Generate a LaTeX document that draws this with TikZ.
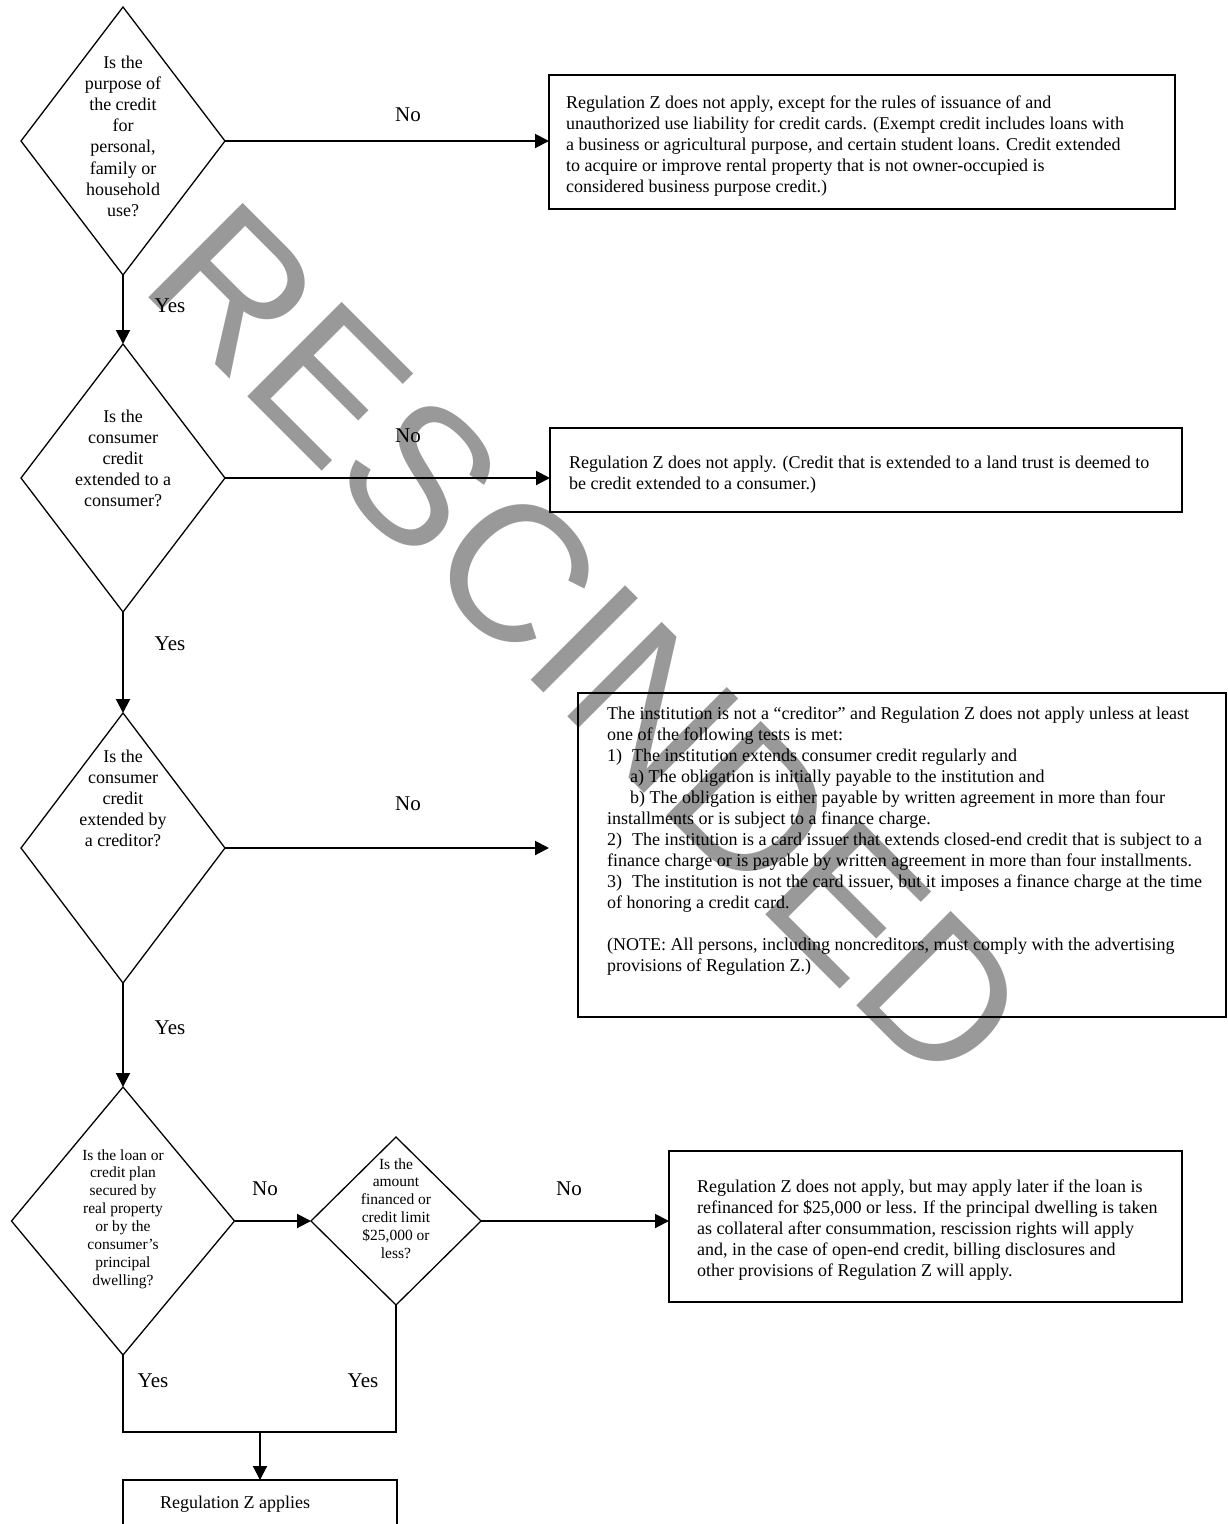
\documentclass[tikz,border=0pt]{standalone}
\usepackage{fontspec}
\setmainfont{Liberation Serif}
\newfontfamily\wmfont{Liberation Sans}
\usetikzlibrary{shapes.geometric,arrows.meta}
\newcommand\txtblock[1]{\begin{tabular}[t]{@{}l@{}}#1\end{tabular}}
\newcommand\ctrblock[1]{\begin{tabular}[t]{@{}c@{}}#1\end{tabular}}
\begin{document}
\begin{tikzpicture}[x=1pt,y=-1pt,
  dia/.style={diamond, draw, line width=1.3pt, inner sep=0pt, outer sep=0pt},
  box/.style={rectangle, draw, line width=1.8pt, inner sep=0pt, outer sep=0pt},
  conn/.style={line width=2pt},
  arr/.style={conn, -{Triangle[length=14pt,width=14pt]}},
  txt/.style={inner sep=0pt, anchor=base west, font=\fontsize{18}{21}\selectfont},
  dtxt/.style={inner sep=0pt, anchor=base, font=\fontsize{18}{21.2}\selectfont},
  stxt/.style={inner sep=0pt, anchor=base, font=\fontsize{15.5}{17.9}\selectfont},
  lbl/.style={inner sep=0pt, anchor=base, font=\fontsize{21}{24}\selectfont},
  wm/.style={inner sep=0pt, anchor=base west, rotate=-45, text=black!40, font=\wmfont\fontsize{194}{200}\selectfont}]
\useasboundingbox (0,0) rectangle (1227,1524);

% watermark (behind everything)
\node[wm] (wmark) at (137,286) {RESCINDED};

% decisions
\node[dia, minimum width=204pt, minimum height=268pt] (d1) at (123,141) {};
\node[dia, minimum width=204pt, minimum height=268pt] (d2) at (123,478) {};
\node[dia, minimum width=204pt, minimum height=270pt] (d3) at (123,848) {};
\node[dia, minimum width=223pt, minimum height=268pt] (d4) at (123,1221) {};
\node[dia, minimum width=170pt, minimum height=168pt] (d5) at (396,1221) {};

\node[dtxt] (d1t) at (123,68) {\ctrblock{Is the\\purpose of\\the credit\\for\\personal,\\family or\\household\\use?}};
\node[dtxt] (d2t) at (123,422) {\ctrblock{Is the\\consumer\\credit\\extended to a\\consumer?}};
\node[dtxt] (d3t) at (123,762) {\ctrblock{Is the\\consumer\\credit\\extended by\\a creditor?}};
\node[stxt] (d4t) at (123,1160) {\ctrblock{Is the loan or\\credit plan\\secured by\\real property\\or by the\\consumer’s\\principal\\dwelling?}};
\node[stxt] (d5t) at (396,1169) {\ctrblock{Is the\\amount\\financed or\\credit limit\\\$25,000 or\\less?}};

% result boxes
\node[box, minimum width=626pt, minimum height=134pt] (b1) at (862,142) {};
\node[box, minimum width=632pt, minimum height=84pt] (b2) at (866,470) {};
\node[box, minimum width=648pt, minimum height=324pt] (b3) at (902,855) {};
\node[box, minimum width=513pt, minimum height=151pt] (b4) at (925.5,1226.5) {};
\node[box, minimum width=274pt, minimum height=64pt] (b5) at (260,1512) {};

\node[txt] (b1t) at (566,108) {\txtblock{Regulation Z does not apply, except for the rules of issuance of and\\unauthorized use liability for credit cards. (Exempt credit includes loans with\\a business or agricultural purpose, and certain student loans. Credit extended\\to acquire or improve rental property that is not owner-occupied is\\considered business purpose credit.)}};
\node[txt] (b2t) at (569,468) {\txtblock{Regulation Z does not apply. (Credit that is extended to a land trust is deemed to\\be credit extended to a consumer.)}};
\node[txt] (b3t) at (607,719) {\txtblock{The institution is not a “creditor” and Regulation Z does not apply unless at least\\one of the following tests is met:\\\makebox[25pt][l]{1)}The institution extends consumer credit regularly and\\\hspace*{23pt}a) The obligation is initially payable to the institution and\\\hspace*{23pt}b) The obligation is either payable by written agreement in more than four\\installments or is subject to a finance charge.\\\makebox[25pt][l]{2)}The institution is a card issuer that extends closed-end credit that is subject to a\\finance charge or is payable by written agreement in more than four installments.\\\makebox[25pt][l]{3)}The institution is not the card issuer, but it imposes a finance charge at the time\\of honoring a credit card.\\ \\(NOTE: All persons, including noncreditors, must comply with the advertising\\provisions of Regulation Z.)}};
\node[txt] (b4t) at (697,1192) {\txtblock{Regulation Z does not apply, but may apply later if the loan is\\refinanced for \$25,000 or less. If the principal dwelling is taken\\as collateral after consummation, rescission rights will apply\\and, in the case of open-end credit, billing disclosures and\\other provisions of Regulation Z will apply.}};
\node[txt] (b5t) at (160,1508) {Regulation Z applies};

% connectors
\coordinate (a3end) at (549,848);
\coordinate (jn) at (260,1432);
\draw[arr] (d1.south) -- (d2.north);
\draw[arr] (d2.south) -- (d3.north);
\draw[arr] (d3.south) -- (d4.north);
\draw[arr] (d1.east) -- (d1.east -| b1.west);
\draw[arr] (d2.east) -- (d2.east -| b2.west);
\draw[arr] (d3.east) -- (a3end);
\draw[arr] (d4.east) -- (d5.west);
\draw[arr] (d5.east) -- (d5.east -| b4.west);
\draw[conn] (d4.south) |- (jn) -| (d5.south);
\draw[arr] (jn) -- (b5.north);

% labels
\node[lbl] (noA) at (408,121) {No};
\node[lbl] (yesA) at (170,312) {Yes};
\node[lbl] (noB) at (408,442) {No};
\node[lbl] (yesB) at (170,650) {Yes};
\node[lbl] (noC) at (408,810) {No};
\node[lbl] (yesC) at (170,1034) {Yes};
\node[lbl] (noD) at (265,1195) {No};
\node[lbl] (noE) at (569,1195) {No};
\node[lbl] (yesD) at (153,1387) {Yes};
\node[lbl] (yesE) at (363,1387) {Yes};
\end{tikzpicture}
\end{document}
